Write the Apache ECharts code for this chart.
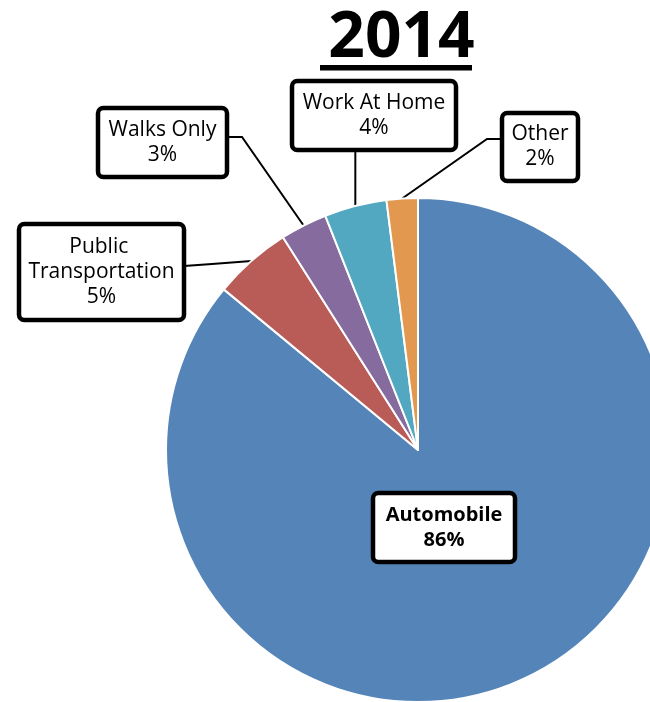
<!DOCTYPE html>
<html>
<head>
<meta charset="utf-8">
<script src="https://cdn.jsdelivr.net/npm/echarts@6/dist/echarts.min.js"></script>
<style>
  html, body { margin: 0; padding: 0; background: #fff; }
  #chart { width: 650px; height: 702px; }
</style>
</head>
<body>
<div id="chart"></div>
<script>
// Commute mode shares, 2014 (percent)
const titleText = '2014';
const categories = ['Automobile', 'Public Transportation', 'Walks Only', 'Work At Home', 'Other'];
const shares = [86, 5, 3, 4, 2];
const sliceColors = ['#5585B8', '#B95B56', '#866C9E', '#51A8C0', '#E3984F'];

// Callout boxes: outer centre, outer size, and the bend/end points of each leader line
const labelBoxes = [
  { cx: 444, cy: 527.5, w: 142, h: 69, bold: true, inside: true },
  { cx: 101.5, cy: 272, w: 165, h: 96, line: [[212, 264], [184, 266]] },
  { cx: 162.5, cy: 142.5, w: 129, h: 69, line: [[242, 137], [227, 137]] },
  { cx: 374, cy: 115.5, w: 164, h: 69, vertical: 150 },
  { cx: 540, cy: 147, w: 76, h: 68, line: [[487, 139], [502, 139]] }
];

const FONT = '"Open Sans", "Noto Sans", sans-serif';
const BORDER = 4.5;
const LINE_H = 25;

const pieData = categories.map((name, i) => {
  const box = labelBoxes[i];
  const lines = box.h > 80 ? 3 : 2;
  const padV = (box.h - BORDER - lines * LINE_H) / 2;
  return {
    name: name,
    value: shares[i],
    itemStyle: { color: sliceColors[i] },
    label: {
      position: box.inside ? 'inside' : 'outside',
      fontWeight: box.bold ? 'bold' : 'normal',
      fontSize: box.bold ? 20 : 21,
      width: box.w - BORDER,
      overflow: 'break',
      padding: [padV, 0, padV, 0]
    },
    labelLine: { show: !box.inside }
  };
});

const chart = echarts.init(document.getElementById('chart'), null, { renderer: 'canvas' });

chart.setOption({
  backgroundColor: '#ffffff',
  animation: false,
  title: {
    text: titleText,
    left: 396.5,
    textAlign: 'center',
    top: 2,
    textStyle: {
      fontFamily: FONT,
      fontSize: 64,
      fontWeight: 'bold',
      color: '#000'
    }
  },
  graphic: [
    { type: 'rect', shape: { x: 320, y: 65, width: 152, height: 5.5 }, style: { fill: '#000' } },
    { type: 'rect', shape: { x: 293, y: 79, width: 162, height: 1 }, style: { fill: '#ececec' } }
  ],
  series: [{
    type: 'pie',
    center: [418, 450],
    radius: 252,
    startAngle: 90,
    clockwise: true,
    avoidLabelOverlap: false,
    itemStyle: { borderColor: '#ffffff', borderWidth: 2 },
    emphasis: { disabled: true },
    label: {
      show: true,
      formatter: '{b}\n{d}%',
      fontFamily: FONT,
      color: '#000',
      lineHeight: LINE_H,
      align: 'center',
      backgroundColor: '#ffffff',
      borderColor: '#000000',
      borderWidth: BORDER,
      borderRadius: 3
    },
    labelLine: {
      show: true,
      smooth: false,
      lineStyle: { color: '#000', width: 2 }
    },
    labelLayout: function (params) {
      const box = labelBoxes[params.dataIndex];
      const res = {
        x: box.cx,
        y: box.cy,
        align: 'center',
        verticalAlign: 'middle',
        hideOverlap: false
      };
      const pts = params.labelLinePoints;
      if (pts && pts.length && !box.inside) {
        const start = pts[0];
        if (box.vertical != null) {
          res.labelLinePoints = [start, [start[0], (start[1] + box.vertical) / 2], [start[0], box.vertical]];
        } else {
          res.labelLinePoints = [start, box.line[0], box.line[1]];
        }
      }
      return res;
    },
    data: pieData
  }]
});
</script>
</body>
</html>
